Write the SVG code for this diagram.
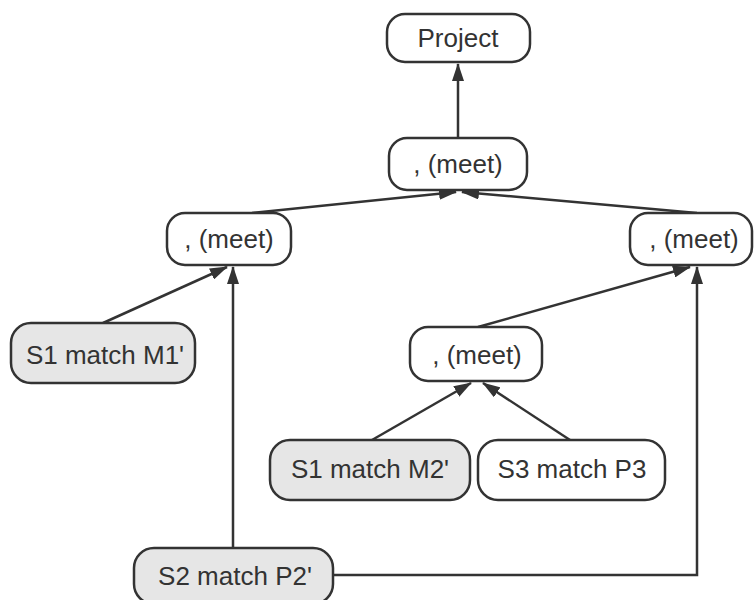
<svg xmlns="http://www.w3.org/2000/svg" width="755" height="600" viewBox="0 0 755 600">
  <style>
    .box { fill: #ffffff; stroke: #333333; stroke-width: 2.5; }
    .grey { fill: #e6e6e6; }
    .lbl { font-family: "Liberation Sans", Arial, sans-serif; font-size: 26px; fill: #333333; text-anchor: middle; }
    .edge { fill: none; stroke: #333333; stroke-width: 2.5; }
  </style>
  <defs>
    <marker id="arrow" viewBox="0 0 18 12" refX="17" refY="6" markerWidth="18" markerHeight="12" markerUnits="userSpaceOnUse" orient="auto">
      <path d="M0,0 L18,6 L0,12 Z" fill="#333333"/>
    </marker>
  </defs>

  <g id="connectors">
    <line class="edge" x1="458" y1="138" x2="458" y2="64" marker-end="url(#arrow)"/>
    <line class="edge" x1="252" y1="213" x2="456" y2="192" marker-end="url(#arrow)"/>
    <line class="edge" x1="697" y1="213" x2="462" y2="192" marker-end="url(#arrow)"/>
    <line class="edge" x1="103" y1="323" x2="227" y2="267" marker-end="url(#arrow)"/>
    <line class="edge" x1="233" y1="548" x2="233" y2="267" marker-end="url(#arrow)"/>
    <line class="edge" x1="478" y1="327" x2="690" y2="267" marker-end="url(#arrow)"/>
    <polyline class="edge" points="333,575 697,575 697,267" marker-end="url(#arrow)"/>
    <line class="edge" x1="372" y1="440" x2="471" y2="383" marker-end="url(#arrow)"/>
    <line class="edge" x1="570" y1="440" x2="483" y2="383" marker-end="url(#arrow)"/>
  </g>

  <g id="project">
    <rect class="box" x="387" y="14" width="143" height="48" rx="18"/>
    <text class="lbl" x="458" y="47">Project</text>
  </g>
  <g id="meet-top">
    <rect class="box" x="389" y="138" width="138" height="52" rx="18"/>
    <text class="lbl" x="458" y="173">, (meet)</text>
  </g>
  <g id="meet-left">
    <rect class="box" x="167" y="213" width="124" height="52" rx="18"/>
    <text class="lbl" x="229" y="248">, (meet)</text>
  </g>
  <g id="meet-right">
    <rect class="box" x="630" y="213" width="122" height="52" rx="18"/>
    <text class="lbl" x="694" y="248">, (meet)</text>
  </g>
  <g id="s1-m1">
    <rect class="box grey" x="11" y="323" width="184" height="60" rx="20"/>
    <text class="lbl" x="105" y="364">S1 match M1'</text>
  </g>
  <g id="meet-mid">
    <rect class="box" x="410" y="327" width="132" height="54" rx="18"/>
    <text class="lbl" x="477" y="364">, (meet)</text>
  </g>
  <g id="s1-m2">
    <rect class="box grey" x="270" y="440" width="200" height="60" rx="20"/>
    <text class="lbl" x="370" y="478">S1 match M2'</text>
  </g>
  <g id="s3-p3">
    <rect class="box" x="478" y="440" width="187" height="60" rx="20"/>
    <text class="lbl" x="572" y="478">S3 match P3</text>
  </g>
  <g id="s2-p2">
    <rect class="box grey" x="134" y="548" width="199" height="56" rx="20"/>
    <text class="lbl" x="235" y="585">S2 match P2'</text>
  </g>
</svg>
